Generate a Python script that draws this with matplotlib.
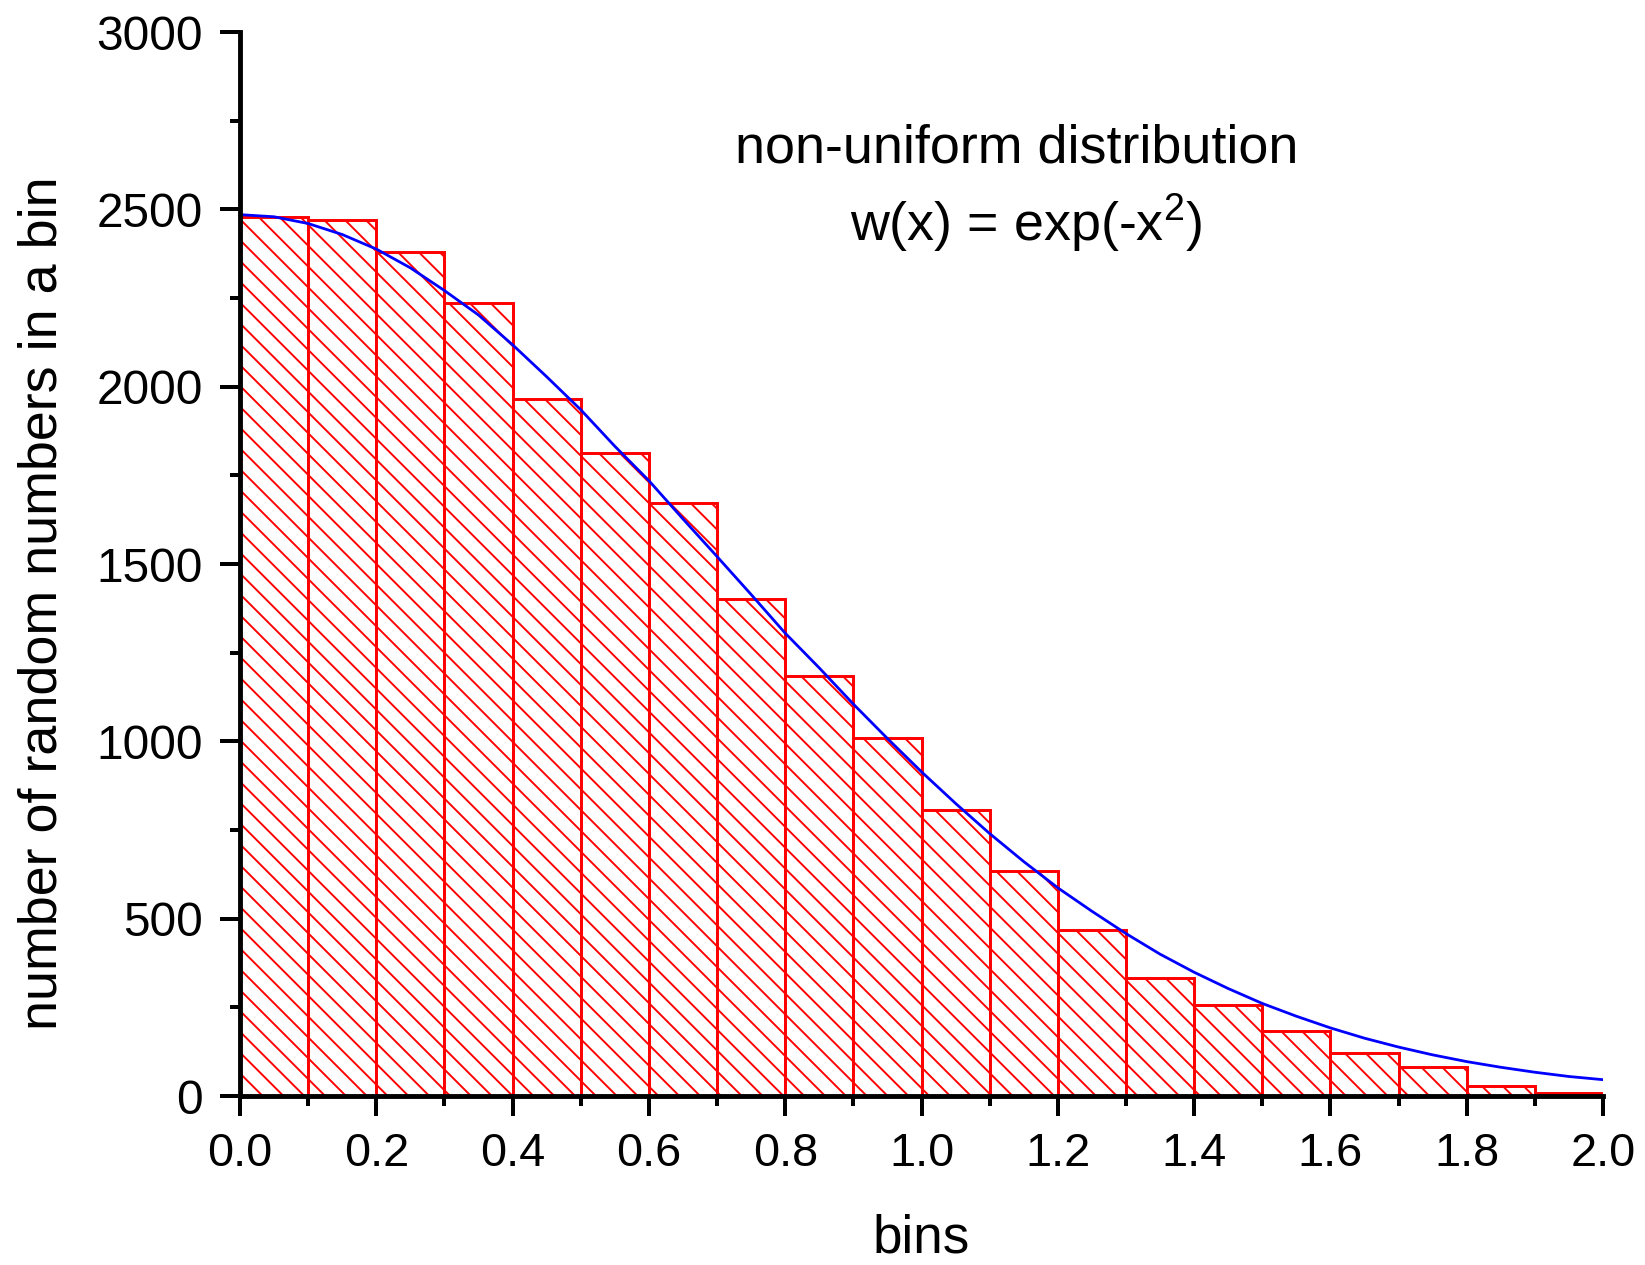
import numpy as np
import matplotlib
matplotlib.use("Agg")
import matplotlib.pyplot as plt
from matplotlib import font_manager
from matplotlib.ticker import MultipleLocator, FormatStrFormatter

# ---------------------------------------------------------------------------
# data
# ---------------------------------------------------------------------------
bin_left = [0.0, 0.1, 0.2, 0.3, 0.4, 0.5, 0.6, 0.7, 0.8, 0.9,
            1.0, 1.1, 1.2, 1.3, 1.4, 1.5, 1.6, 1.7, 1.8, 1.9]
bin_counts = [2478, 2471, 2380, 2235, 1965, 1814, 1672, 1402, 1183, 1009,
              805, 633, 467, 334, 257, 184, 120, 82, 28, 8]
bin_width = 0.1

# fitted curve w(x) = exp(-x^2)
curve_x = [0.0, 0.05, 0.1, 0.15, 0.2, 0.25, 0.3, 0.35, 0.4, 0.45,
           0.5, 0.55, 0.6, 0.65, 0.7, 0.75, 0.8, 0.85, 0.9, 0.95,
           1.0, 1.05, 1.1, 1.15, 1.2, 1.25, 1.3, 1.35, 1.4, 1.45,
           1.5, 1.55, 1.6, 1.65, 1.7, 1.75, 1.8, 1.85, 1.9, 1.95, 2.0]
curve_y = [2485, 2479, 2460, 2429, 2388, 2335, 2271, 2202, 2118, 2028,
           1935, 1832, 1735, 1627, 1521, 1414, 1305, 1207, 1105, 1008,
           914, 825, 740, 661, 587, 521, 458, 400, 349, 303,
           261, 225, 192, 163, 138, 116, 97, 81, 67, 55, 46]

title_lines = ["non-uniform distribution", "w(x) = exp(-x$^{2}$)"]

# ---------------------------------------------------------------------------
# fonts
# ---------------------------------------------------------------------------
installed = {f.name for f in font_manager.fontManager.ttflist}
MAIN_FONT = "Liberation Sans" if "Liberation Sans" in installed else "DejaVu Sans"

plt.rcParams["font.family"] = [MAIN_FONT, "DejaVu Sans"]
plt.rcParams["mathtext.fontset"] = "custom"
plt.rcParams["mathtext.rm"] = MAIN_FONT
plt.rcParams["mathtext.it"] = MAIN_FONT
plt.rcParams["hatch.linewidth"] = 1.1

# ---------------------------------------------------------------------------
# plot
# ---------------------------------------------------------------------------
DPI = 125
fig = plt.figure(figsize=(1645 / DPI, 1265 / DPI), dpi=DPI)
ax = fig.add_axes([240 / 1645, 1 - 1096 / 1265, 1363 / 1645, 1064 / 1265])

ax.bar(bin_left, bin_counts, width=bin_width, align="edge",
       facecolor="white", edgecolor="red", linewidth=1.7, hatch="\\\\",
       zorder=2)
ax.plot(curve_x, curve_y, color="blue", linewidth=1.6, zorder=3)

ax.set_xlim(0, 2.0)
ax.set_ylim(0, 3000)

for side in ("top", "right"):
    ax.spines[side].set_visible(False)
for side in ("left", "bottom"):
    ax.spines[side].set_linewidth(2.8)
    ax.spines[side].set_zorder(5)

ax.xaxis.set_major_locator(MultipleLocator(0.2))
ax.xaxis.set_minor_locator(MultipleLocator(0.1))
ax.xaxis.set_major_formatter(FormatStrFormatter("%.1f"))
ax.yaxis.set_major_locator(MultipleLocator(500))
ax.yaxis.set_minor_locator(MultipleLocator(250))

ax.tick_params(which="major", direction="out", length=11.5, width=2.3)
ax.tick_params(which="minor", direction="out", length=6, width=2.3)
ax.tick_params(axis="y", which="major", pad=10, labelsize=27.5)
ax.tick_params(axis="x", which="major", pad=9, labelsize=27)

ax.set_xlabel("bins", fontsize=30.5)
ax.xaxis.set_label_coords(0.5, -0.147)
ax.xaxis.label.set_va("baseline")

ax.set_ylabel("number of random numbers in a bin", fontsize=31)
ax.yaxis.set_label_coords(-0.145, 0.463)
ax.yaxis.label.set_va("center")

ax.text(1.139, 2631, title_lines[0], fontsize=31, ha="center", va="baseline")
ax.text(1.153, 2411, title_lines[1], fontsize=31, ha="center", va="baseline")

fig.savefig("out.png", dpi=DPI)
